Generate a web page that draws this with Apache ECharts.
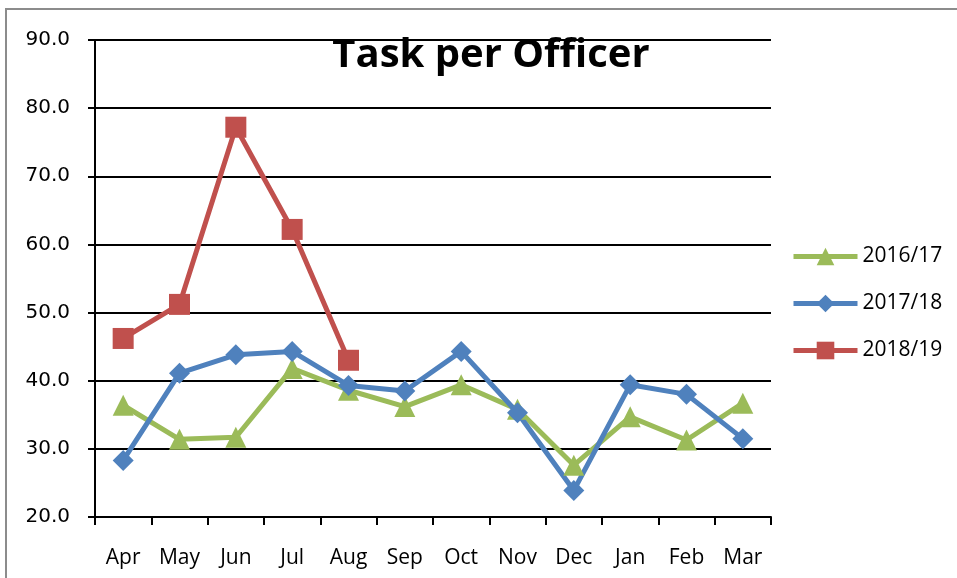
<!DOCTYPE html>
<html>
<head>
<meta charset="UTF-8">
<title>Task per Officer</title>
<script src="https://cdn.jsdelivr.net/npm/echarts@6/dist/echarts.min.js"></script>
<style>
  html, body { margin: 0; padding: 0; background: #fff; }
  #frame { position: absolute; left: 5px; top: 8px; width: 960px; height: 580px;
           border-top: 2px solid #8c8c8c; border-left: 2px solid #8c8c8c; }
  #chart { position: absolute; left: 0; top: 0; width: 957px; height: 578px; }
</style>
</head>
<body>
<div id="frame"></div>
<div id="chart"></div>
<script>
var months = ['Apr', 'May', 'Jun', 'Jul', 'Aug', 'Sep', 'Oct', 'Nov', 'Dec', 'Jan', 'Feb', 'Mar'];
var y1617 = [36.4, 31.4, 31.7, 41.8, 38.6, 36.2, 39.4, 35.8, 27.6, 34.7, 31.3, 36.7];
var y1718 = [28.3, 41.1, 43.8, 44.3, 39.3, 38.5, 44.3, 35.3, 23.9, 39.4, 38.0, 31.5];
var y1819 = [46.2, 51.2, 77.2, 62.2, 43.0];

var myChart = echarts.init(document.getElementById('chart'));

function line(name, data, color, symbol, size) {
  return {
    name: name,
    type: 'line',
    data: data,
    symbol: symbol,
    symbolSize: size,
    lineStyle: { color: color, width: 5 },
    itemStyle: { color: color },
    animation: false
  };
}

myChart.setOption({
  backgroundColor: 'transparent',
  title: {
    text: 'Task per Officer',
    left: 486,
    top: 31,
    textAlign: 'center',
    textStyle: { fontFamily: 'Open Sans', fontWeight: 'bold', fontSize: 40, color: '#000' }
  },
  legend: {
    orient: 'vertical',
    left: 786,
    top: 241,
    itemWidth: 64,
    itemHeight: 22,
    itemGap: 26,
    lineStyle: { width: 5 },
    textStyle: { fontFamily: 'Open Sans', fontSize: 21, color: '#000' },
    data: ['2016/17', '2017/18', '2018/19']
  },
  grid: { left: 95, right: 186, top: 40, bottom: 61 },
  xAxis: {
    type: 'category',
    data: months,
    boundaryGap: true,
    axisLine: { lineStyle: { color: '#000', width: 2 } },
    axisTick: { show: true, length: 8, lineStyle: { color: '#000', width: 2 } },
    axisLabel: { margin: 31, fontFamily: 'Open Sans', fontSize: 21, color: '#000' }
  },
  yAxis: {
    type: 'value',
    min: 20,
    max: 90,
    interval: 10,
    axisLine: { show: true, lineStyle: { color: '#000', width: 2 } },
    axisTick: { show: true, length: 7, lineStyle: { color: '#000', width: 2 } },
    splitLine: { lineStyle: { color: '#000', width: 2 } },
    axisLabel: {
      margin: 25,
      fontFamily: 'DejaVu Sans',
      fontSize: 20,
      color: '#000',
      formatter: function (v) { return v.toFixed(1); }
    }
  },
  series: [
    line('2016/17', y1617, '#9bbb59', 'triangle', 21),
    line('2017/18', y1718, '#4f81bd', 'diamond', 21),
    line('2018/19', y1819, '#c0504d', 'rect', 21)
  ]
});
</script>
</body>
</html>
